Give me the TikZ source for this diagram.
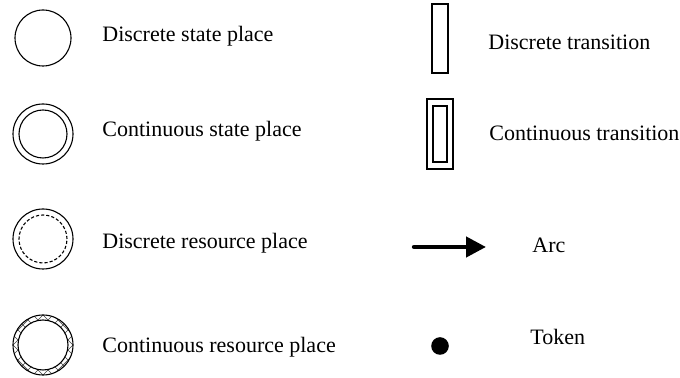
\documentclass[tikz,border=0pt]{standalone}
\usepackage{fontspec}
\setmainfont{Liberation Serif}
\usetikzlibrary{arrows.meta,calc}
\begin{document}
\begin{tikzpicture}[x=0.5pt,y=-0.5pt,
  lbl/.style={anchor=base west,inner sep=0pt,font=\fontsize{11}{13}\selectfont},
  place/.style={circle,draw,line width=0.55pt,inner sep=0pt,minimum size=#1},
  trans/.style={rectangle,draw,line width=0.55pt,inner sep=0pt},
  hatch/.style={line width=0.35pt,black!75}]
\useasboundingbox (0,0) rectangle (680,378);
% left column
\node[place=28pt] (p1) at (43,38) {};
\node[lbl] (t1) at (102,42) {Discrete state place};

\node[place=30pt] (p2o) at (43,134) {};
\node[place=24pt] (p2i) at (43,134) {};
\node[lbl] (t2) at (102,137) {Continuous state place};

\node[place=30pt] (p3o) at (43,239) {};
\node[place=24pt,dash pattern=on 1.6pt off 1pt] (p3i) at (43,239) {};
\node[lbl] (t3) at (102,249) {Discrete resource place};

\coordinate (c4) at (43,345);
\begin{scope}[even odd rule]
  \clip (c4) circle[radius=15pt] (c4) circle[radius=12.5pt];
  \foreach \k in {-8,...,8}{
    \draw[hatch] ($(c4)+(\k*5pt,0)+(-20pt,-20pt)$) -- ($(c4)+(\k*5pt,0)+(20pt,20pt)$);
    \draw[hatch] ($(c4)+(\k*5pt,0)+(-20pt,20pt)$) -- ($(c4)+(\k*5pt,0)+(20pt,-20pt)$);
  }
\end{scope}
\node[place=30pt] (p4o) at (c4) {};
\node[place=25pt] (p4i) at (c4) {};
\node[lbl] (t4) at (102,353) {Continuous resource place};

% right column
\node[trans,minimum width=8pt,minimum height=34.5pt] (tr1) at (440,38.5) {};
\node[lbl] (t5) at (488,50) {Discrete transition};

\node[trans,minimum width=13pt,minimum height=35pt] (tr2o) at (440,134) {};
\node[trans,minimum width=7pt,minimum height=28pt] (tr2i) at (440,134) {};
\node[lbl] (t6) at (489,141) {Continuous transition};

\coordinate (a1) at (414,247);
\coordinate (a2) at (486,247);
\draw[line width=2.2pt,line cap=round,-{Triangle[length=10pt,width=10pt]}] (a1) -- (a2);
\node[lbl] (t7) at (532,253) {Arc};

\node[circle,fill=black,inner sep=0pt,minimum size=8.8pt] (tok) at (440,346) {};
\node[lbl] (t8) at (530,345) {Token};
\end{tikzpicture}
\end{document}
